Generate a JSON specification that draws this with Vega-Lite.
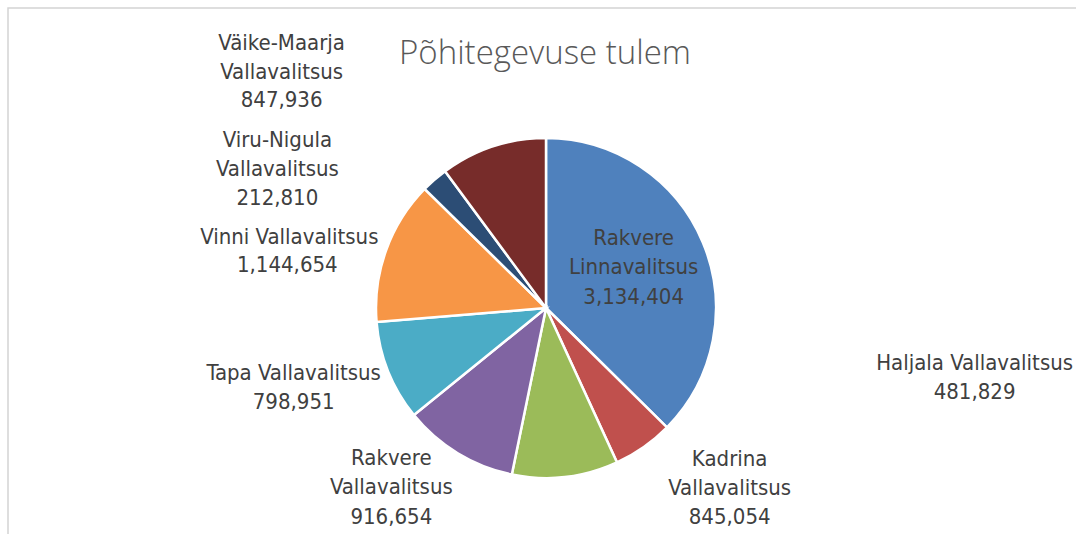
{
  "$schema": "https://vega.github.io/schema/vega-lite/v6.json",
  "width": 1074,
  "height": 532,
  "autosize": {"type": "none"},
  "padding": {"left": 8, "top": 8, "right": -6, "bottom": -6},
  "background": "white",
  "view": {"stroke": "#D4D4D4", "strokeWidth": 1.5, "fill": null},
  "title": {
    "text": "Põhitegevuse tulem",
    "anchor": "middle",
    "frame": "group",
    "font": "Open Sans",
    "fontWeight": 300,
    "fontSize": 33,
    "color": "#595959",
    "baseline": "alphabetic",
    "offset": -89
  },
  "data": {
    "values": [
      {"name": "Rakvere Linnavalitsus", "label": "Rakvere\nLinnavalitsus", "value": 3134404},
      {"name": "Haljala Vallavalitsus", "label": "Haljala Vallavalitsus", "value": 481829},
      {"name": "Kadrina Vallavalitsus", "label": "Kadrina\nVallavalitsus", "value": 845054},
      {"name": "Rakvere Vallavalitsus", "label": "Rakvere\nVallavalitsus", "value": 916654},
      {"name": "Tapa Vallavalitsus", "label": "Tapa Vallavalitsus", "value": 798951},
      {"name": "Vinni Vallavalitsus", "label": "Vinni Vallavalitsus", "value": 1144654},
      {"name": "Viru-Nigula Vallavalitsus", "label": "Viru-Nigula\nVallavalitsus", "value": 212810},
      {"name": "Väike-Maarja Vallavalitsus", "label": "Väike-Maarja\nVallavalitsus", "value": 847936}
    ]
  },
  "transform": [{"window": [{"op": "row_number", "as": "idx"}]}],
  "encoding": {
    "theta": {"field": "value", "type": "quantitative", "stack": true},
    "order": {"field": "idx", "type": "quantitative"}
  },
  "layer": [
    {
      "mark": {"type": "arc", "outerRadius": 170, "stroke": "white", "strokeWidth": 2.5, "xOffset": 1, "yOffset": 34},
      "encoding": {
        "color": {
          "field": "name",
          "type": "nominal",
          "legend": null,
          "scale": {
            "domain": ["Rakvere Linnavalitsus", "Haljala Vallavalitsus", "Kadrina Vallavalitsus", "Rakvere Vallavalitsus", "Tapa Vallavalitsus", "Vinni Vallavalitsus", "Viru-Nigula Vallavalitsus", "Väike-Maarja Vallavalitsus"],
            "range": ["#4F81BD", "#C0504D", "#9BBB59", "#8064A2", "#4BACC6", "#F79646", "#2C4D75", "#772C2A"]
          }
        }
      }
    },
    {"mark": {"type": "text", "radius": 95, "dx": 1, "dy": 1},
     "encoding": {"text": {"condition": {"test": "datum.name === 'Rakvere Linnavalitsus'", "field": "label", "type": "nominal"}, "value": ""}}},
    {"mark": {"type": "text", "radius": 95, "dx": 1, "dy": 60},
     "encoding": {"text": {"condition": {"test": "datum.name === 'Rakvere Linnavalitsus'", "field": "value", "type": "quantitative", "format": ",d"}, "value": ""}}},

    {"mark": {"type": "text", "radius": 170, "dx": 332, "dy": -50},
     "encoding": {"text": {"condition": {"test": "datum.name === 'Haljala Vallavalitsus'", "field": "label", "type": "nominal"}, "value": ""}}},
    {"mark": {"type": "text", "radius": 170, "dx": 332, "dy": -21},
     "encoding": {"text": {"condition": {"test": "datum.name === 'Haljala Vallavalitsus'", "field": "value", "type": "quantitative", "format": ",d"}, "value": ""}}},

    {"mark": {"type": "text", "radius": 190, "dx": 163, "dy": -4},
     "encoding": {"text": {"condition": {"test": "datum.name === 'Kadrina Vallavalitsus'", "field": "label", "type": "nominal"}, "value": ""}}},
    {"mark": {"type": "text", "radius": 190, "dx": 163, "dy": 54},
     "encoding": {"text": {"condition": {"test": "datum.name === 'Kadrina Vallavalitsus'", "field": "value", "type": "quantitative", "format": ",d"}, "value": ""}}},

    {"mark": {"type": "text", "radius": 190, "dx": -55, "dy": 22},
     "encoding": {"text": {"condition": {"test": "datum.name === 'Rakvere Vallavalitsus'", "field": "label", "type": "nominal"}, "value": ""}}},
    {"mark": {"type": "text", "radius": 190, "dx": -55, "dy": 81},
     "encoding": {"text": {"condition": {"test": "datum.name === 'Rakvere Vallavalitsus'", "field": "value", "type": "quantitative", "format": ",d"}, "value": ""}}},

    {"mark": {"type": "text", "radius": 190, "dx": -75, "dy": 28},
     "encoding": {"text": {"condition": {"test": "datum.name === 'Tapa Vallavalitsus'", "field": "label", "type": "nominal"}, "value": ""}}},
    {"mark": {"type": "text", "radius": 190, "dx": -75, "dy": 57},
     "encoding": {"text": {"condition": {"test": "datum.name === 'Tapa Vallavalitsus'", "field": "value", "type": "quantitative", "format": ",d"}, "value": ""}}},

    {"mark": {"type": "text", "radius": 190, "dx": -77, "dy": 28},
     "encoding": {"text": {"condition": {"test": "datum.name === 'Vinni Vallavalitsus'", "field": "label", "type": "nominal"}, "value": ""}}},
    {"mark": {"type": "text", "radius": 190, "dx": -79, "dy": 56},
     "encoding": {"text": {"condition": {"test": "datum.name === 'Vinni Vallavalitsus'", "field": "value", "type": "quantitative", "format": ",d"}, "value": ""}}},

    {"mark": {"type": "text", "radius": 190, "dx": -143, "dy": 9},
     "encoding": {"text": {"condition": {"test": "datum.name === 'Viru-Nigula Vallavalitsus'", "field": "label", "type": "nominal"}, "value": ""}}},
    {"mark": {"type": "text", "radius": 190, "dx": -143, "dy": 67},
     "encoding": {"text": {"condition": {"test": "datum.name === 'Viru-Nigula Vallavalitsus'", "field": "value", "type": "quantitative", "format": ",d"}, "value": ""}}},

    {"mark": {"type": "text", "radius": 190, "dx": -204, "dy": -51},
     "encoding": {"text": {"condition": {"test": "datum.name === 'Väike-Maarja Vallavalitsus'", "field": "label", "type": "nominal"}, "value": ""}}},
    {"mark": {"type": "text", "radius": 190, "dx": -204, "dy": 6},
     "encoding": {"text": {"condition": {"test": "datum.name === 'Väike-Maarja Vallavalitsus'", "field": "value", "type": "quantitative", "format": ",d"}, "value": ""}}}
  ],
  "config": {
    "text": {
      "font": "DejaVu Sans Condensed, sans-serif",
      "fontSize": 22,
      "fill": "#404040",
      "align": "center",
      "baseline": "middle",
      "lineHeight": 29,
      "lineBreak": "\n"
    }
  }
}
